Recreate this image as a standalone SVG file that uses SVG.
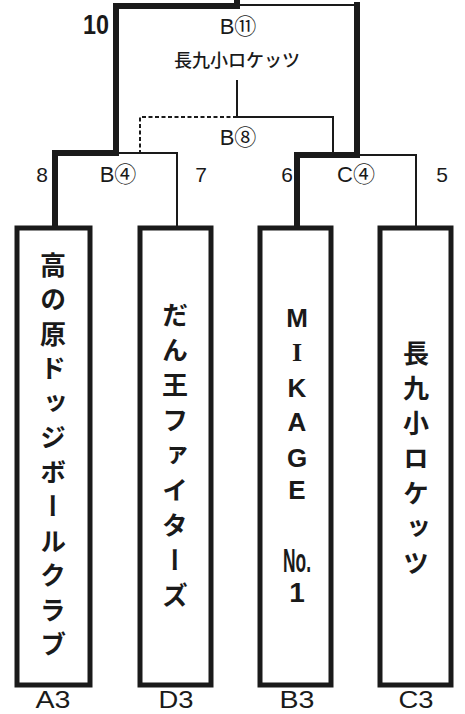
<svg xmlns="http://www.w3.org/2000/svg" width="465" height="714" viewBox="0 0 465 714">
<style>
.bg{fill:#ffffff}
.thick{fill:none;stroke:#1a1a1a;stroke-width:6;stroke-linejoin:miter;stroke-linecap:square}
.thin{fill:none;stroke:#1a1a1a;stroke-width:2}
.dash{fill:none;stroke:#1a1a1a;stroke-width:2;stroke-dasharray:4 2.5}
.box{fill:#ffffff;stroke:#1a1a1a;stroke-width:5}
.lbl{font-family:"Liberation Sans","Noto Sans CJK JP",sans-serif;fill:#1a1a1a;text-anchor:middle}
.jp{font-family:"Noto Sans CJK JP",sans-serif;fill:#1a1a1a}
.vt{font-family:"Noto Sans CJK JP",sans-serif;font-weight:700;font-size:26px;fill:#1a1a1a;writing-mode:vertical-rl;letter-spacing:8.5px}
.lat{font-family:"Liberation Sans",sans-serif;font-weight:700;font-size:26px;fill:#1a1a1a;text-anchor:middle}
.foot{font-family:"Liberation Sans",sans-serif;fill:#1a1a1a;text-anchor:middle;font-size:23px}
</style>
<rect class="bg" x="0" y="0" width="465" height="714"/>
<g id="connectors">
  <path class="thin" d="M237,5 H357"/>
  <path class="thick" d="M116,153 V6 H237 V0"/>
  <path class="thick" d="M357,5 V155"/>
  <path class="thin" d="M237,80 V117 H333 V153"/>
  <path class="dash" d="M237,117 H140 V153"/>
  <path class="thick" d="M55,226 V153 H116"/>
  <path class="thin" d="M116,153 H177 V226"/>
  <path class="thick" d="M297,226 V155 H357"/>
  <path class="thin" d="M357,155 H416 V226"/>
</g>
<g id="labels">
  <text class="lbl" x="96" y="34" font-size="28" font-weight="700" textLength="26" lengthAdjust="spacingAndGlyphs">10</text>
  <text class="lbl" x="238" y="34" font-size="22">B⑪</text>
  <text class="jp" x="237" y="67" font-size="18" text-anchor="middle" font-weight="500">長九小ロケッツ</text>
  <text class="lbl" x="238" y="145" font-size="22">B⑧</text>
  <text class="lbl" x="42" y="182" font-size="21">8</text>
  <text class="lbl" x="118" y="182" font-size="22">B④</text>
  <text class="lbl" x="201" y="182" font-size="21">7</text>
  <text class="lbl" x="287" y="182" font-size="21">6</text>
  <text class="lbl" x="356" y="182" font-size="22">C④</text>
  <text class="lbl" x="442" y="182" font-size="21">5</text>
</g>
<g id="team-A3">
  <rect class="box" x="17" y="228" width="73" height="457"/>
  <text class="vt" x="53" y="252">高の原ドッジボールクラブ</text>
  <text class="foot" x="53" y="708" textLength="35" lengthAdjust="spacingAndGlyphs">A3</text>
</g>
<g id="team-D3">
  <rect class="box" x="140" y="228" width="71" height="457"/>
  <text class="vt" x="175" y="302" style="letter-spacing:9px">だん王ファイターズ</text>
  <text class="foot" x="176" y="708" textLength="35" lengthAdjust="spacingAndGlyphs">D3</text>
</g>
<g id="team-B3">
  <rect class="box" x="260" y="228" width="71" height="457"/>
  <text class="lat" x="297" y="326.5">M</text>
  <text class="lat" x="297" y="361" style="font-family:'Liberation Serif',serif">I</text>
  <text class="lat" x="297" y="397">K</text>
  <text class="lat" x="297" y="431">A</text>
  <text class="lat" x="297" y="467">G</text>
  <text class="lat" x="297" y="499">E</text>
  <text class="lat" x="297" y="572" style="font-size:34px" textLength="28" lengthAdjust="spacingAndGlyphs">No.</text>
  <text class="lat" x="297" y="602" style="font-size:28px">1</text>
  <text class="foot" x="297" y="708" textLength="35" lengthAdjust="spacingAndGlyphs">B3</text>
</g>
<g id="team-C3">
  <rect class="box" x="380" y="228" width="71" height="457"/>
  <text class="vt" x="416" y="340" style="letter-spacing:9px">長九小ロケッツ</text>
  <text class="foot" x="416" y="708" textLength="35" lengthAdjust="spacingAndGlyphs">C3</text>
</g>
</svg>
